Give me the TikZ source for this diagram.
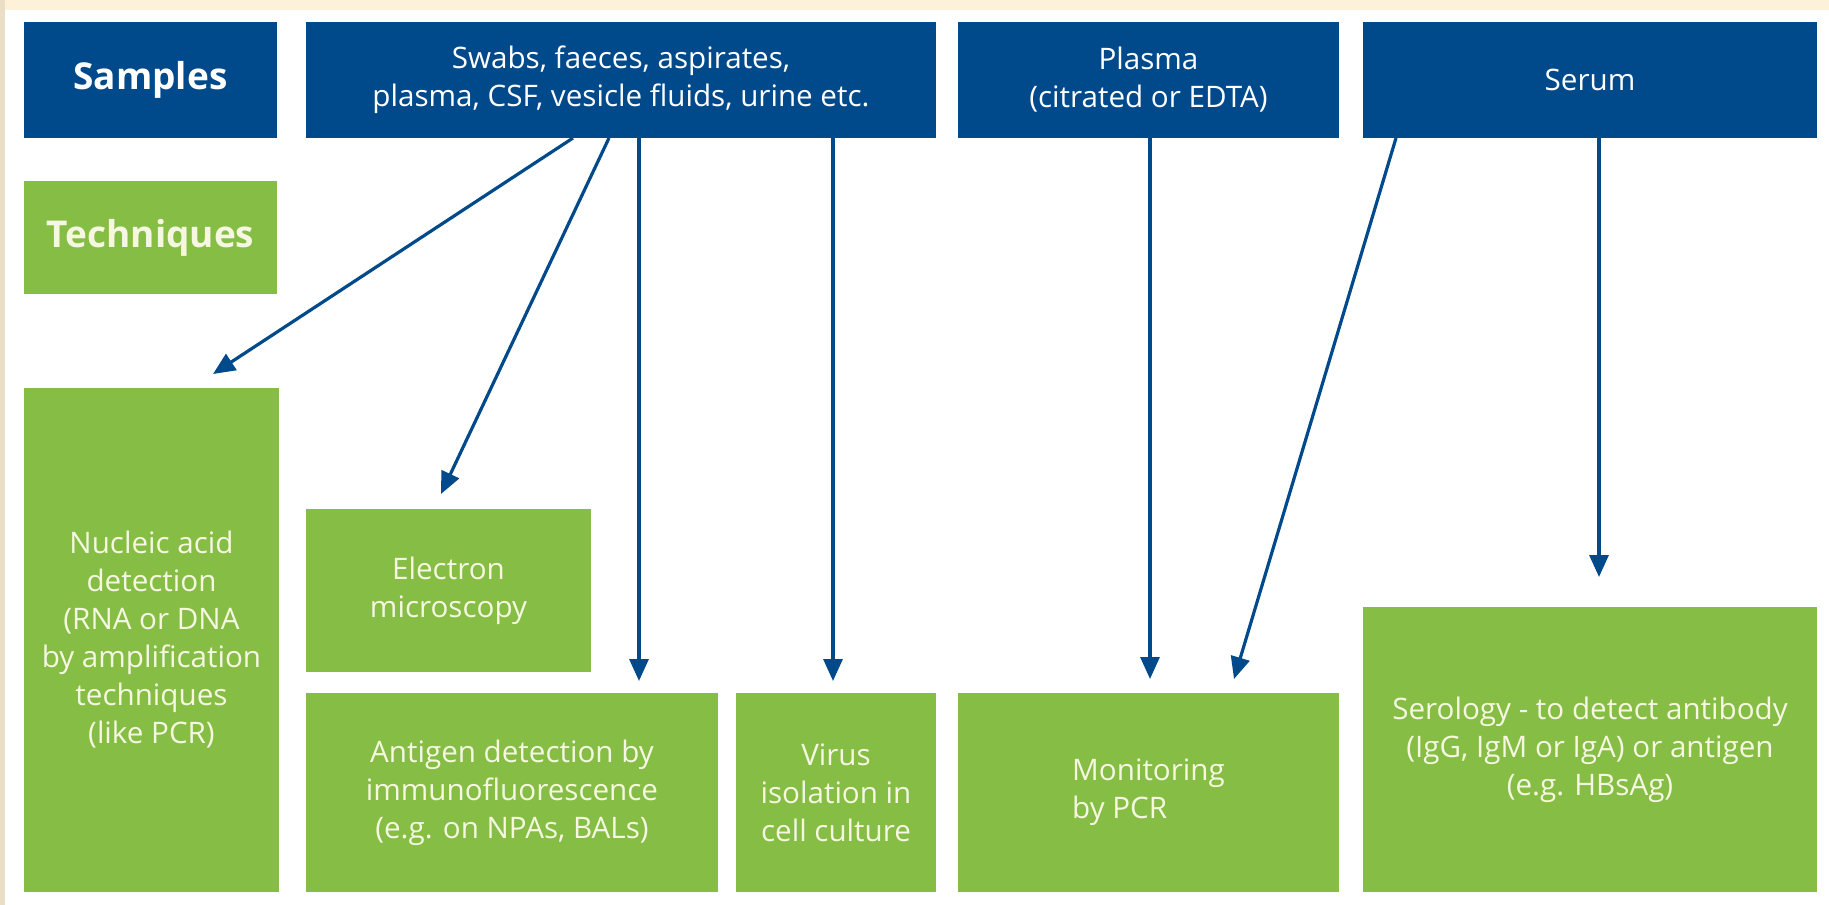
\documentclass[tikz,border=0pt]{standalone}
\usepackage{fontspec}
\setmainfont{Open Sans}
\usetikzlibrary{arrows.meta}
\definecolor{sblue}{HTML}{004A8C}
\definecolor{tgreen}{HTML}{86BD45}
\definecolor{gtext}{HTML}{F5F7E1}
\definecolor{creamtop}{HTML}{FDF1DA}
\definecolor{creamleft}{HTML}{EADFC5}
\begin{document}
\begin{tikzpicture}[x=1pt,y=-1pt,
  box/.style={draw=none, inner sep=0pt, align=center, font=\fontsize{29.6}{38}\selectfont},
  bluebox/.style={box, fill=sblue, text=white},
  greenbox/.style={box, fill=tgreen, text=gtext},
  headtext/.style={font=\fontsize{37}{44}\selectfont\bfseries},
  arr/.style={draw=sblue, line width=3.2pt, -{Triangle[length=22pt,width=19pt]}}
]
\useasboundingbox (0,0) rectangle (1829,905);
\fill[white] (0,0) rectangle (1829,905);
\fill[creamtop] (0,0) rectangle (1829,10);
\fill[creamleft] (0,0) rectangle (5,905);

% top row
\node[bluebox, headtext, minimum width=253pt, minimum height=116pt] (samples) at (150.5,80) {Samples};
\node[bluebox, minimum width=630pt, minimum height=116pt] (swabs) at (621,80) {Swabs, faeces, aspirates,\\plasma, CSF, vesicle fluids, urine etc.};
\node[bluebox, minimum width=381pt, minimum height=116pt] (plasma) at (1148.5,80) {Plasma\\(citrated or EDTA)};
\node[bluebox, minimum width=454pt, minimum height=116pt] (serum) at (1590,80) {Serum};

\node[greenbox, headtext, minimum width=253pt, minimum height=113pt] (techniques) at (150.5,237.5) {Techniques};

% technique boxes
\node[greenbox, minimum width=255pt, minimum height=504pt] (nucleic) at (151.5,640) {Nucleic acid\\detection\\(RNA or DNA\\by amplification\\techniques\\(like PCR)};
\node[greenbox, minimum width=285pt, minimum height=163pt] (electron) at (448.5,590.5) {Electron\\microscopy};
\node[greenbox, minimum width=412pt, minimum height=199pt] (antigen) at (512,792.5) {Antigen detection by\\immunofluorescence\\(e.g. on NPAs, BALs)};
\node[greenbox, minimum width=200pt, minimum height=199pt] (virus) at (836,792.5) {Virus\\isolation in\\cell culture};
\node[greenbox, align=left, minimum width=381pt, minimum height=199pt] (monitoring) at (1148.5,792.5) {Monitoring\\by PCR};
\node[greenbox, minimum width=454pt, minimum height=285pt] (serology) at (1590,749.5) {Serology - to detect antibody\\(IgG, IgM or IgA) or antigen\\(e.g. HBsAg)};

% connector end points
\coordinate (a1s) at (573,138);  \coordinate (a1e) at (213,374);
\coordinate (a2s) at (609,138);  \coordinate (a2e) at (441,494);
\coordinate (a3s) at (639,138);  \coordinate (a3e) at (639,681);
\coordinate (a4s) at (833,138);  \coordinate (a4e) at (833,681);
\coordinate (a5s) at (1150,138); \coordinate (a5e) at (1150,679);
\coordinate (a6s) at (1396,138); \coordinate (a6e) at (1234,679);
\coordinate (a7s) at (1599,138); \coordinate (a7e) at (1599,577);

\draw[arr] (a1s) -- (a1e);
\draw[arr] (a2s) -- (a2e);
\draw[arr] (a3s) -- (a3e);
\draw[arr] (a4s) -- (a4e);
\draw[arr] (a5s) -- (a5e);
\draw[arr] (a6s) -- (a6e);
\draw[arr] (a7s) -- (a7e);
\end{tikzpicture}
\end{document}
